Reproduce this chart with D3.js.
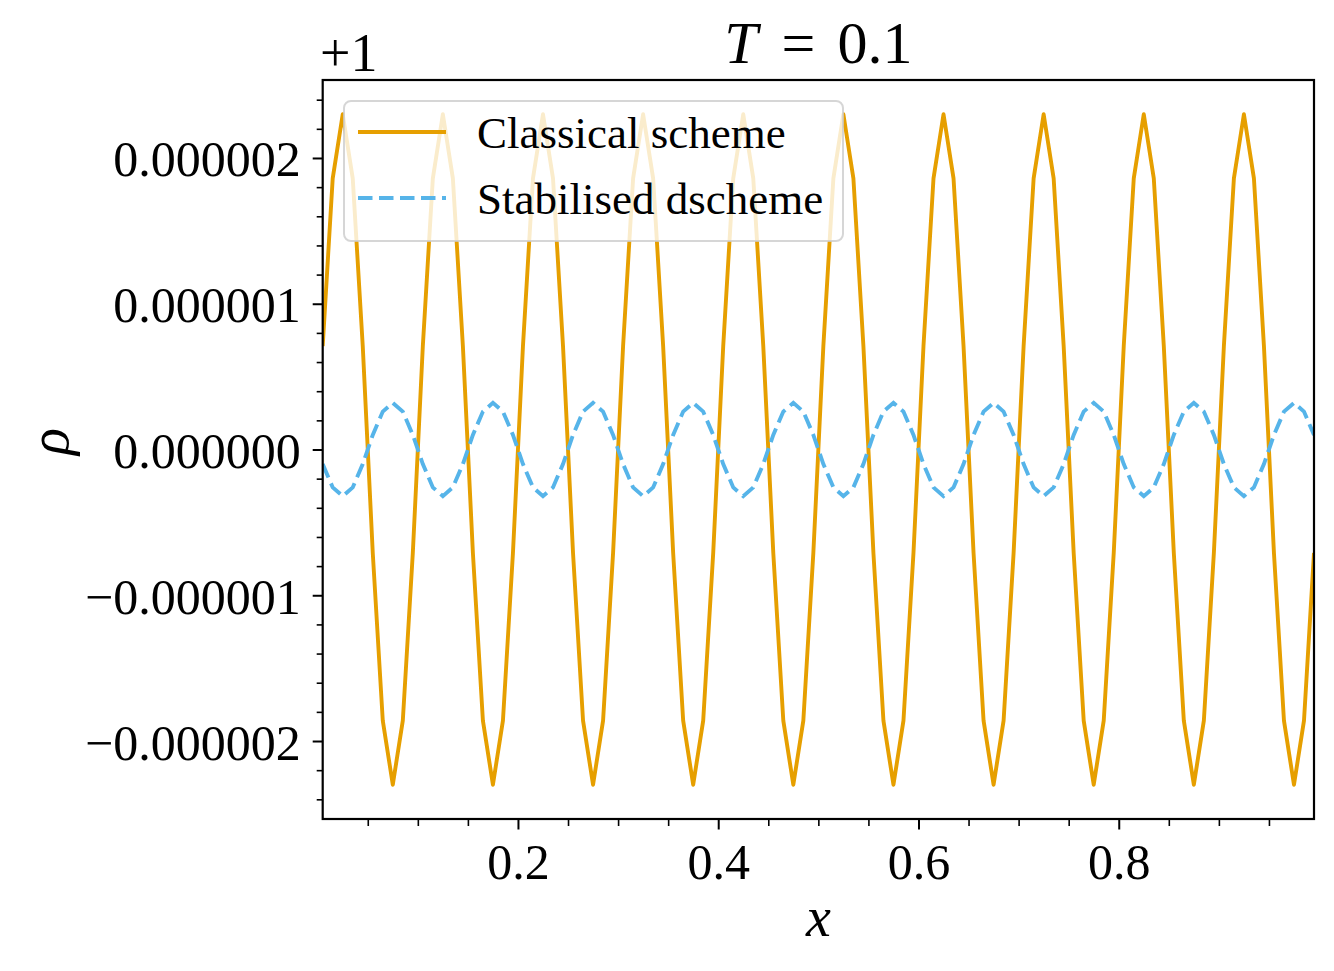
<!DOCTYPE html>
<html>
<head>
<meta charset="utf-8">
<script src="https://cdn.jsdelivr.net/npm/d3@7"></script>
<style>
  body { margin: 0; background: #fff; }
  text { font-family: "Liberation Serif", "DejaVu Serif", serif; fill: #000; }
</style>
</head>
<body>
<div id="chart"></div>
<script>
// grid points (cell centres)
const xs = [
  0.005, 0.015, 0.025, 0.035, 0.045, 0.055, 0.065, 0.075, 0.085, 0.095,
  0.105, 0.115, 0.125, 0.135, 0.145, 0.155, 0.165, 0.175, 0.185, 0.195,
  0.205, 0.215, 0.225, 0.235, 0.245, 0.255, 0.265, 0.275, 0.285, 0.295,
  0.305, 0.315, 0.325, 0.335, 0.345, 0.355, 0.365, 0.375, 0.385, 0.395,
  0.405, 0.415, 0.425, 0.435, 0.445, 0.455, 0.465, 0.475, 0.485, 0.495,
  0.505, 0.515, 0.525, 0.535, 0.545, 0.555, 0.565, 0.575, 0.585, 0.595,
  0.605, 0.615, 0.625, 0.635, 0.645, 0.655, 0.665, 0.675, 0.685, 0.695,
  0.705, 0.715, 0.725, 0.735, 0.745, 0.755, 0.765, 0.775, 0.785, 0.795,
  0.805, 0.815, 0.825, 0.835, 0.845, 0.855, 0.865, 0.875, 0.885, 0.895,
  0.905, 0.915, 0.925, 0.935, 0.945, 0.955, 0.965, 0.975, 0.985, 0.995
];

// rho - 1, in units of 1e-6
const classical = [
  0.71, 1.86, 2.30, 1.86, 0.71, -0.71, -1.86, -2.30, -1.86, -0.71,
  0.71, 1.86, 2.30, 1.86, 0.71, -0.71, -1.86, -2.30, -1.86, -0.71,
  0.71, 1.86, 2.30, 1.86, 0.71, -0.71, -1.86, -2.30, -1.86, -0.71,
  0.71, 1.86, 2.30, 1.86, 0.71, -0.71, -1.86, -2.30, -1.86, -0.71,
  0.71, 1.86, 2.30, 1.86, 0.71, -0.71, -1.86, -2.30, -1.86, -0.71,
  0.71, 1.86, 2.30, 1.86, 0.71, -0.71, -1.86, -2.30, -1.86, -0.71,
  0.71, 1.86, 2.30, 1.86, 0.71, -0.71, -1.86, -2.30, -1.86, -0.71,
  0.71, 1.86, 2.30, 1.86, 0.71, -0.71, -1.86, -2.30, -1.86, -0.71,
  0.71, 1.86, 2.30, 1.86, 0.71, -0.71, -1.86, -2.30, -1.86, -0.71,
  0.71, 1.86, 2.30, 1.86, 0.71, -0.71, -1.86, -2.30, -1.86, -0.71
];

const stabilised = [
  -0.10, -0.26, -0.32, -0.26, -0.10, 0.10, 0.26, 0.32, 0.26, 0.10,
  -0.10, -0.26, -0.32, -0.26, -0.10, 0.10, 0.26, 0.32, 0.26, 0.10,
  -0.10, -0.26, -0.32, -0.26, -0.10, 0.10, 0.26, 0.32, 0.26, 0.10,
  -0.10, -0.26, -0.32, -0.26, -0.10, 0.10, 0.26, 0.32, 0.26, 0.10,
  -0.10, -0.26, -0.32, -0.26, -0.10, 0.10, 0.26, 0.32, 0.26, 0.10,
  -0.10, -0.26, -0.32, -0.26, -0.10, 0.10, 0.26, 0.32, 0.26, 0.10,
  -0.10, -0.26, -0.32, -0.26, -0.10, 0.10, 0.26, 0.32, 0.26, 0.10,
  -0.10, -0.26, -0.32, -0.26, -0.10, 0.10, 0.26, 0.32, 0.26, 0.10,
  -0.10, -0.26, -0.32, -0.26, -0.10, 0.10, 0.26, 0.32, 0.26, 0.10,
  -0.10, -0.26, -0.32, -0.26, -0.10, 0.10, 0.26, 0.32, 0.26, 0.10
];

const seriesNames = ["Classical scheme", "Stabilised dscheme"];

const xTicks = [0.2, 0.4, 0.6, 0.8];
const xTickLabels = ["0.2", "0.4", "0.6", "0.8"];
const xMinorTicks = [0.05, 0.1, 0.15, 0.25, 0.3, 0.35, 0.45, 0.5, 0.55, 0.65, 0.7, 0.75, 0.85, 0.9, 0.95];

const yTicks = [-2, -1, 0, 1, 2];
const yTickLabels = ["\u22120.000002", "\u22120.000001", "0.000000", "0.000001", "0.000002"];
const yMinorTicks = [-2.4, -2.2, -1.8, -1.6, -1.4, -1.2, -0.8, -0.6, -0.4, -0.2,
                     0.2, 0.4, 0.6, 0.8, 1.2, 1.4, 1.6, 1.8, 2.2, 2.4];

const W = 1334, H = 971;
const margin = { top: 80, right: 20, bottom: 152, left: 322.7 };
const width = W - margin.left - margin.right;
const height = H - margin.top - margin.bottom;

const orange = "#E69F00";
const blue = "#56B4E9";
const lw = 3.9;
const dash = "14.5,6.5";

const svg = d3.select("#chart")
    .append("svg")
    .attr("width", W)
    .attr("height", H);

const g = svg.append("g")
    .attr("transform", `translate(${margin.left},${margin.top})`);

const x = d3.scaleLinear()
    .domain([0.005, 0.995])
    .range([0, width]);

const y = d3.scaleLinear()
    .domain([-2.535, 2.535])
    .range([height, 0]);

const data = xs.map((d, i) => ({ x: d, a: classical[i], b: stabilised[i] }));

svg.append("clipPath").attr("id", "clip")
    .append("rect").attr("width", width).attr("height", height);

const plot = g.append("g").attr("clip-path", "url(#clip)");

plot.append("path")
    .datum(data)
    .attr("fill", "none")
    .attr("stroke", orange)
    .attr("stroke-width", lw)
    .attr("stroke-linejoin", "round")
    .attr("d", d3.line().x(d => x(d.x)).y(d => y(d.a)));

plot.append("path")
    .datum(data)
    .attr("fill", "none")
    .attr("stroke", blue)
    .attr("stroke-width", lw)
    .attr("stroke-dasharray", dash)
    .attr("d", d3.line().x(d => x(d.x)).y(d => y(d.b)));

// axes
function styleAxis(sel) {
    sel.select(".domain").remove();
    sel.selectAll(".tick line").attr("stroke", "#000").attr("stroke-width", 2);
    sel.selectAll(".tick text").style("font-size", "50px").attr("font-family", "Liberation Serif");
}

const xAxis = g.append("g")
    .attr("transform", `translate(0,${height})`)
    .call(d3.axisBottom(x).tickValues(xTicks).tickSize(10.5).tickPadding(22)
        .tickFormat((d, i) => xTickLabels[i]));
styleAxis(xAxis);
xAxis.selectAll(".tick text").attr("dy", "0.71em").attr("y", 24);

const xMinor = g.append("g")
    .attr("transform", `translate(0,${height})`)
    .call(d3.axisBottom(x).tickValues(xMinorTicks).tickSize(7).tickFormat(""));
styleAxis(xMinor);
xMinor.selectAll(".tick line").attr("stroke-width", 1.6);

const yAxis = g.append("g")
    .call(d3.axisLeft(y).tickValues(yTicks).tickSize(10).tickPadding(12)
        .tickFormat((d, i) => yTickLabels[i]));
styleAxis(yAxis);
yAxis.selectAll(".tick text").attr("dy", "0.36em");

const yMinor = g.append("g")
    .call(d3.axisLeft(y).tickValues(yMinorTicks).tickSize(6).tickFormat(""));
styleAxis(yMinor);
yMinor.selectAll(".tick line").attr("stroke-width", 1.6);

// frame
g.append("rect")
    .attr("width", width)
    .attr("height", height)
    .attr("fill", "none")
    .attr("stroke", "#000")
    .attr("stroke-width", 2.2);

// legend
const legend = svg.append("g").attr("transform", "translate(344,101)");
legend.append("rect")
    .attr("width", 499)
    .attr("height", 140)
    .attr("rx", 7)
    .attr("fill", "#fff")
    .attr("fill-opacity", 0.8)
    .attr("stroke", "#ccc")
    .attr("stroke-opacity", 0.8)
    .attr("stroke-width", 2);

const legendItems = [
    { name: seriesNames[0], color: orange, dash: null, y: 31 },
    { name: seriesNames[1], color: blue, dash: dash, y: 97 }
];
legendItems.forEach(it => {
    legend.append("line")
        .attr("x1", 14).attr("x2", 102)
        .attr("y1", it.y).attr("y2", it.y)
        .attr("stroke", it.color)
        .attr("stroke-width", lw)
        .attr("stroke-dasharray", it.dash);
    legend.append("text")
        .attr("x", 133)
        .attr("y", it.y + 16)
        .style("font-size", "45px")
        .text(it.name);
});

// title, offset and axis labels
const title = svg.append("text")
    .attr("x", margin.left + width / 2)
    .attr("y", 63)
    .attr("text-anchor", "middle")
    .style("font-size", "60px");
title.append("tspan").style("font-style", "italic").text("T");
title.append("tspan").attr("dx", 24).text("=");
title.append("tspan").attr("dx", 22).text("0.1");

svg.append("text")
    .attr("x", 320)
    .attr("y", 71)
    .style("font-size", "54px")
    .text("+1");

svg.append("text")
    .attr("x", margin.left + width / 2)
    .attr("y", 936)
    .attr("text-anchor", "middle")
    .style("font-size", "56px")
    .style("font-style", "italic")
    .text("x");

svg.append("text")
    .attr("transform", `translate(68,${margin.top + height / 2 - 8}) rotate(-90)`)
    .attr("text-anchor", "middle")
    .style("font-size", "56px")
    .style("font-style", "italic")
    .text("\u03c1");
</script>
</body>
</html>
